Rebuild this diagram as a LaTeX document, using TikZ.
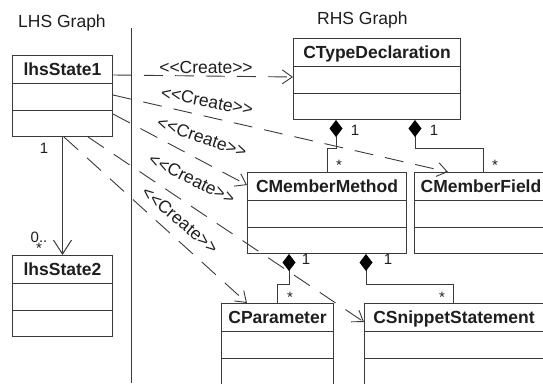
\documentclass[tikz,border=0pt]{standalone}
\usepackage{fontspec}
\setmainfont{Liberation Sans}
\usetikzlibrary{arrows.meta, positioning, shapes.multipart, calc}
\definecolor{roseLine}{HTML}{3A3A3A}
\definecolor{roseInk}{HTML}{1E1E1E}
\newcommand{\guil}[1]{<\kern0pt<#1>\kern0pt>}

\begin{document}
\begin{tikzpicture}[
    x=1pt, y=-1pt,
    classbox/.style={
      rectangle split, rectangle split parts=3,
      rectangle split empty part height=25.5pt,
      rectangle split empty part depth=0pt,
      draw=roseLine, fill=white, text=roseInk,
      line width=1pt,
      inner xsep=0pt, inner ysep=0pt,
      anchor=north west,
      font=\fontsize{17.5}{20}\selectfont\bfseries,
    },
    assoc/.style={-{Straight Barb[length=14pt, width=18pt]}, roseLine, line width=1pt},
    create/.style={-{Straight Barb[length=10pt, width=14pt]}, roseLine, line width=0.9pt, dash pattern=on 19pt off 12pt},
    compose/.style={{Diamond[length=17pt, width=13pt, color=black]}-, roseLine, line width=1pt},
    mult/.style={font=\fontsize{15}{11}\selectfont, text=roseInk, inner sep=0pt, anchor=base},
    stereo/.style={font=\fontsize{17.5}{20}\selectfont, text=roseInk, inner sep=0pt},
    graphtitle/.style={font=\fontsize{17.5}{20}\selectfont, text=roseInk, inner sep=0pt, anchor=base west},
  ]
  \useasboundingbox (0,0) rectangle (543,383);
  \clip (0,0) rectangle (543,383);

  % the two graphs and the line between them
  \node[graphtitle] (lhsTitle) at (18,27.5) {LHS Graph};
  \node[graphtitle] (rhsTitle) at (317,24.5) {RHS Graph};
  \draw[roseLine, line width=1pt] (131,28) -- (131,383);

  % left hand side
  \node[classbox, minimum width=100pt] (lhs1) at (12,55) {\rule[-8pt]{0pt}{27pt}lhsState1\nodepart{two}\nodepart{three}};
  \node[classbox, minimum width=100pt, below=118pt of lhs1] (lhs2) {\rule[-8pt]{0pt}{27pt}lhsState2\nodepart{two}\nodepart{three}};

  % right hand side
  \node[classbox, minimum width=167pt] (ctype) at (293,38) {\rule[-8pt]{0pt}{27pt}CTypeDeclaration\nodepart{two}\nodepart{three}};
  \node[classbox, minimum width=159pt] (cmethod) at (247,172) {\rule[-8pt]{0pt}{27pt}CMemberMethod\nodepart{two}\nodepart{three}};
  \node[classbox, minimum width=133pt, right=7pt of cmethod] (cfield) {\rule[-8pt]{0pt}{27pt}CMemberField\nodepart{two}\nodepart{three}};
  \node[classbox, minimum width=112pt] (cparam) at (221,303) {\rule[-8pt]{0pt}{27pt}CParameter\nodepart{two}\nodepart{three}};
  \node[classbox, minimum width=179pt, right=30pt of cparam] (csnip) {\rule[-8pt]{0pt}{27pt}CSnippetStatement\nodepart{two}\nodepart{three}};

  \draw[assoc] (lhs1.south) -- (lhs2.north);
  \node[mult] (m1) at (44,153) {1};
  \node[mult, anchor=north, align=center] (m2) at (39,232) {0..\\*};

  % compositions
  \draw[compose] ([xshift=43pt]ctype.south west) -- ++(0,28) -| ([xshift=80pt]cmethod.north west);
  \draw[compose] ([xshift=122pt]ctype.south west) -- ++(0,28) -| ([xshift=69pt]cfield.north west);
  \draw[compose] ([xshift=42pt]cmethod.south west) -- ++(0,30) -| ([xshift=56pt]cparam.north west);
  \draw[compose] ([xshift=119pt]cmethod.south west) -- ++(0,30) -| ([xshift=89pt]csnip.north west);
  \node[mult] (m3) at (355,135) {1};
  \node[mult] (m4) at (339,170) {*};
  \node[mult] (m5) at (434,135) {1};
  \node[mult] (m6) at (495,170) {*};
  \node[mult] (m7) at (306,264) {1};
  \node[mult] (m8) at (290,302) {*};
  \node[mult] (m9) at (388,264) {1};
  \node[mult] (m10) at (442,302) {*};

  % create links
  \draw[create] ($(lhs1.north east)+(0,20)$) -- ($(ctype.north west)+(0,39)$);
  \draw[create] ($(lhs1.north east)+(0,40)$) -- ([xshift=34pt]cfield.north west);
  \draw[create] ($(lhs1.north east)+(0,59)$) -- ($(cmethod.north west)+(0,13)$);
  \draw[create] ([xshift=52pt]lhs1.south west) -- ([xshift=26pt]cparam.north west);
  \draw[create] ([xshift=76pt]lhs1.south west) -- ($(csnip.north west)+(0,19)$);
  \foreach \x/\y/\a [count=\i] in {206/67/0, 207/101/-11, 202/137/-19, 192/179/-26, 180/220/-40}
    \node[stereo, rotate=\a] (create\i) at (\x,\y) {\guil{Create}};
\end{tikzpicture}
\end{document}
